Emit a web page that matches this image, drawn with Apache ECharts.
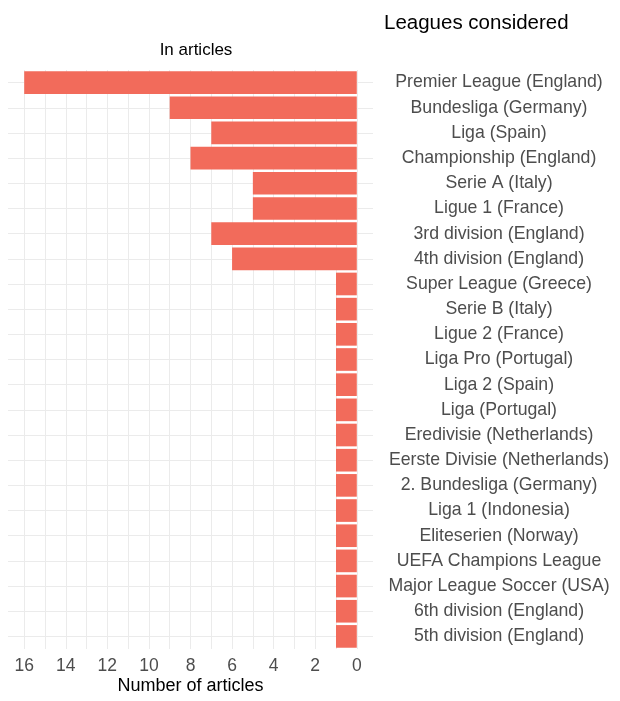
<!DOCTYPE html>
<html>
<head>
<meta charset="utf-8">
<script src="https://cdn.jsdelivr.net/npm/echarts@6/dist/echarts.min.js"></script>
<style>
  html, body { margin: 0; padding: 0; background: #fff; }
  #chart { width: 620px; height: 701px; }
</style>
</head>
<body>
<div id="chart"></div>
<script>
var leagues = [
    'Premier League (England)', 'Bundesliga (Germany)', 'Liga (Spain)',
    'Championship (England)', 'Serie A (Italy)', 'Ligue 1 (France)',
    '3rd division (England)', '4th division (England)', 'Super League (Greece)',
    'Serie B (Italy)', 'Ligue 2 (France)', 'Liga Pro (Portugal)', 'Liga 2 (Spain)',
    'Liga (Portugal)', 'Eredivisie (Netherlands)', 'Eerste Divisie (Netherlands)',
    '2. Bundesliga (Germany)', 'Liga 1 (Indonesia)', 'Eliteserien (Norway)',
    'UEFA Champions League', 'Major League Soccer (USA)', '6th division (England)',
    '5th division (England)'
];
var articles = [16, 9, 7, 8, 5, 5, 7, 6, 1, 1, 1, 1, 1, 1, 1, 1, 1, 1, 1, 1, 1, 1, 1];
var gridTicks = [0, 1, 2, 3, 4, 5, 6, 7, 8, 9, 10, 11, 12, 13, 14, 15, 16];
var tickLabels = [0, 2, 4, 6, 8, 10, 12, 14, 16];

var chart = echarts.init(document.getElementById('chart'));
var font = 'Liberation Sans, Arial, sans-serif';
var option = {
    animation: false,
    textStyle: { fontFamily: font },
    title: [
        {
            text: 'Leagues considered',
            left: 379, top: 8,
            textStyle: { fontSize: 20.5, fontWeight: 'normal', color: '#000', fontFamily: font }
        },
        {
            text: 'In articles',
            left: 191, top: 37, textAlign: 'center',
            textStyle: { fontSize: 17, fontWeight: 'normal', color: '#000', fontFamily: font }
        }
    ],
    grid: { left: 8, right: 247, top: 70, bottom: 52, outerBoundsMode: 'none' },
    xAxis: {
        type: 'value',
        inverse: true,
        min: -0.78,
        max: 16.78,
        name: 'Number of articles',
        nameLocation: 'middle',
        nameGap: 28,
        nameMoveOverlap: false,
        nameTextStyle: { fontSize: 18, color: '#000', fontFamily: font },
        axisLine: { show: false },
        axisTick: { show: false, customValues: gridTicks },
        axisLabel: {
            customValues: tickLabels,
            fontSize: 17.5, color: '#4d4d4d', margin: 8, fontFamily: font
        },
        splitLine: { show: true, lineStyle: { color: '#ebebeb', width: 1 } }
    },
    yAxis: {
        type: 'category',
        data: leagues,
        inverse: true,
        position: 'right',
        axisLine: { show: false, onZero: false },
        axisTick: {
            show: true,
            alignWithLabel: true,
            inside: true,
            length: 365,
            lineStyle: { color: '#ebebeb', width: 1 }
        },
        axisLabel: {
            align: 'center',
            margin: 126,
            fontSize: 17.7,
            color: '#4d4d4d',
            fontFamily: font
        },
        splitLine: { show: false }
    },
    series: [
        {
            type: 'bar',
            data: articles,
            barCategoryGap: '10%',
            itemStyle: { color: '#f26b5b' }
        }
    ]
};
chart.setOption(option);
</script>
</body>
</html>
